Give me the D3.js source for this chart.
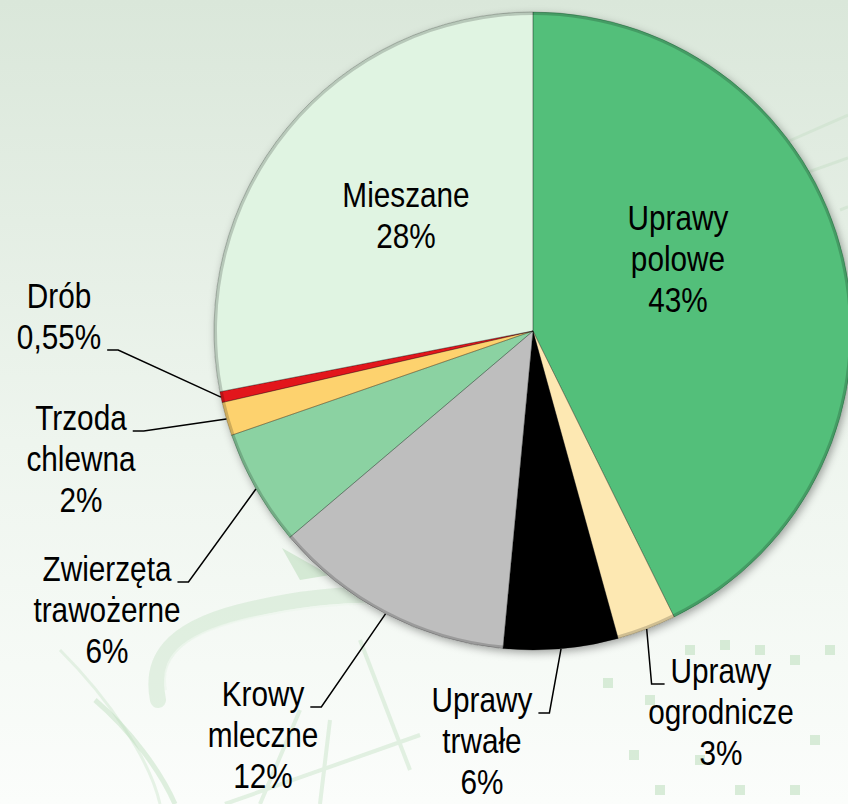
<!DOCTYPE html>
<html lang="pl">
<head>
<meta charset="utf-8">
<title>Struktura gospodarstw wg typu rolniczego</title>
<script src="https://d3js.org/d3.v7.min.js"></script>
<style>
  html, body { margin: 0; padding: 0; overflow: hidden; }
  svg { display: block; }
  .lbl { font-family: "Liberation Sans", Arial, sans-serif; font-size: 35px; fill: #000; }
</style>
</head>
<body>
<script>
// dane z wykresu (udziały w %)
var categories = ["Uprawy polowe", "Uprawy ogrodnicze", "Uprawy trwałe", "Krowy mleczne",
                  "Zwierzęta trawożerne", "Trzoda chlewna", "Drób", "Mieszane"];
var shares = [42.7, 3.0, 5.8, 12.3, 5.9, 1.7, 0.55, 28.05];
var shareLabels = ["43%", "3%", "6%", "12%", "6%", "2%", "0,55%", "28%"];
var colors = ["#52bf7a", "#fde8b2", "#040404", "#bebebe", "#8bd2a2", "#fdd26e", "#e2151b", "#e0f4e2"];

// rozmieszczenie etykiet (ręczne, jak w oryginale)
var labelLayout = [
  {x: 678, y: 230},
  {x: 721, y: 683, line: 0, side: "left"},
  {x: 482, y: 712, line: 0, side: "right"},
  {x: 263, y: 706, line: 0, side: "right"},
  {x: 107, y: 581, line: 0, side: "right"},
  {x: 81,  y: 430, line: 0, side: "right"},
  {x: 59,  y: 308, line: 1, side: "right"},
  {x: 406, y: 207}
];

var W = 848, H = 804;
var cx = 533, cy = 331, radius = 319;
var lineH = 41, squeeze = 0.85;

var svg = d3.select("body").append("svg")
    .attr("width", W)
    .attr("height", H);

var defs = svg.append("defs");

var bg = defs.append("linearGradient").attr("id", "bg")
    .attr("x1", 0).attr("y1", 0).attr("x2", 0).attr("y2", 1);
bg.append("stop").attr("offset", "0%").attr("stop-color", "#dae7da");
bg.append("stop").attr("offset", "55%").attr("stop-color", "#eef5ee");
bg.append("stop").attr("offset", "100%").attr("stop-color", "#fbfdfb");

var shadow = defs.append("filter").attr("id", "shadow")
    .attr("x", "-20%").attr("y", "-20%").attr("width", "140%").attr("height", "140%");
shadow.append("feDropShadow")
    .attr("dx", 2).attr("dy", 3).attr("stdDeviation", 4)
    .attr("flood-color", "#000").attr("flood-opacity", 0.35);

svg.append("rect").attr("width", W).attr("height", H).attr("fill", "url(#bg)");

// tło: delikatne zielone ornamenty
var deco = svg.append("g").attr("fill", "none").attr("stroke", "#b5d9b5");
deco.append("path")
    .attr("d", "M158,700 C150,660 170,630 240,612 C300,597 350,592 400,596")
    .attr("stroke-width", 16).attr("stroke-opacity", 0.32).attr("stroke-linecap", "round");
deco.append("path")
    .attr("d", "M166,690 C160,660 178,636 242,620 C300,606 350,602 400,604")
    .attr("stroke", "#eef6ee").attr("stroke-width", 2).attr("stroke-opacity", 0.8);
deco.append("path")
    .attr("d", "M95,700 C130,730 160,770 175,804")
    .attr("stroke-width", 5).attr("stroke-opacity", 0.4);
deco.append("path")
    .attr("d", "M60,650 C110,700 150,760 160,804")
    .attr("stroke-width", 3).attr("stroke-opacity", 0.3);
deco.append("path")
    .attr("d", "M225,804 L420,735 M260,804 L300,710 M320,804 L330,720 M410,770 L360,640")
    .attr("stroke-width", 4).attr("stroke-opacity", 0.35);
deco.append("path")
    .attr("d", "M780,145 L848,115 M800,175 L848,158 M840,210 L848,207")
    .attr("stroke", "#cfe3cf").attr("stroke-width", 3).attr("stroke-opacity", 0.7);
deco.append("path")
    .attr("d", "M282,548 L330,575 L300,580 Z")
    .attr("fill", "#b5d9b5").attr("fill-opacity", 0.5).attr("stroke", "none");

var dots = [[608,683],[634,755],[690,650],[725,645],[760,650],[795,660],[830,650],
            [650,700],[700,760],[740,790],[815,740],[795,790],[660,790]];
svg.append("g").selectAll("rect").data(dots).enter().append("rect")
    .attr("x", function(d) { return d[0] - 5; })
    .attr("y", function(d) { return d[1] - 5; })
    .attr("width", 10).attr("height", 10)
    .attr("fill", "#c9e4c9").attr("fill-opacity", 0.7);

// wykres kołowy
var pie = d3.pie().sort(null).value(function(d) { return d; });
var arcs = pie(shares);

var arc = d3.arc().innerRadius(0).outerRadius(radius);
var edgeArc = d3.arc().innerRadius(radius).outerRadius(radius);
var rimArc = d3.arc().innerRadius(radius - 3).outerRadius(radius);

var g = svg.append("g").attr("transform", "translate(" + cx + "," + cy + ")");

var pieG = g.append("g").attr("filter", "url(#shadow)");
pieG.selectAll("path.slice")
    .data(arcs)
    .enter().append("path")
    .attr("class", "slice")
    .attr("d", arc)
    .attr("fill", function(d, i) { return colors[i]; });

// efekt fazowania: jasna krawędź wewnętrzna przycięta do wycinka
arcs.forEach(function(d, i) {
  defs.append("clipPath").attr("id", "clip" + i)
      .append("path").attr("d", arc(d))
      .attr("transform", "translate(" + cx + "," + cy + ")");
});
var bevel = svg.append("g");
arcs.forEach(function(d, i) {
  bevel.append("path")
      .attr("clip-path", "url(#clip" + i + ")")
      .attr("transform", "translate(" + cx + "," + cy + ")")
      .attr("d", arc(d))
      .attr("fill", "none")
      .attr("stroke", i === 2 ? "#3a3a3a" : "#ffffff")
      .attr("stroke-opacity", i === 2 ? 0.9 : 0.35)
      .attr("stroke-width", 6);
  bevel.append("path")
      .attr("transform", "translate(" + cx + "," + cy + ")")
      .attr("d", rimArc(d))
      .attr("fill", "#000")
      .attr("fill-opacity", 0.18);
  bevel.append("path")
      .attr("transform", "translate(" + cx + "," + cy + ")")
      .attr("d", arc(d))
      .attr("fill", "none")
      .attr("stroke", "#000")
      .attr("stroke-opacity", 0.22)
      .attr("stroke-width", 1);
});

// etykiety
var labels = svg.append("g");
arcs.forEach(function(d, i) {
  var lay = labelLayout[i];
  var lines = categories[i].split(" ").concat([shareLabels[i]]);
  var t = labels.append("text")
      .attr("class", "lbl")
      .attr("text-anchor", "middle")
      .attr("transform", "translate(" + lay.x + "," + lay.y + ") scale(" + squeeze + ",1)");
  var spans = [];
  lines.forEach(function(s, k) {
    spans.push(t.append("tspan").attr("x", 0).attr("y", k * lineH).text(s));
  });

  if (lay.side) {
    var w = spans[lay.line].node().getComputedTextLength() * squeeze;
    var by = lay.y + lay.line * lineH + 1;
    var ex, kx;
    if (lay.side === "right") {
      ex = lay.x + w / 2 + 6;
      kx = ex + 11;
    } else {
      ex = lay.x - w / 2 - 6;
      kx = ex - 13;
    }
    var p = edgeArc.centroid(d);
    labels.append("path")
        .attr("d", "M" + ex + "," + by + "L" + kx + "," + by + "L" + (cx + p[0]) + "," + (cy + p[1]))
        .attr("fill", "none")
        .attr("stroke", "#000")
        .attr("stroke-width", 1.5);
  }
});
</script>
</body>
</html>
